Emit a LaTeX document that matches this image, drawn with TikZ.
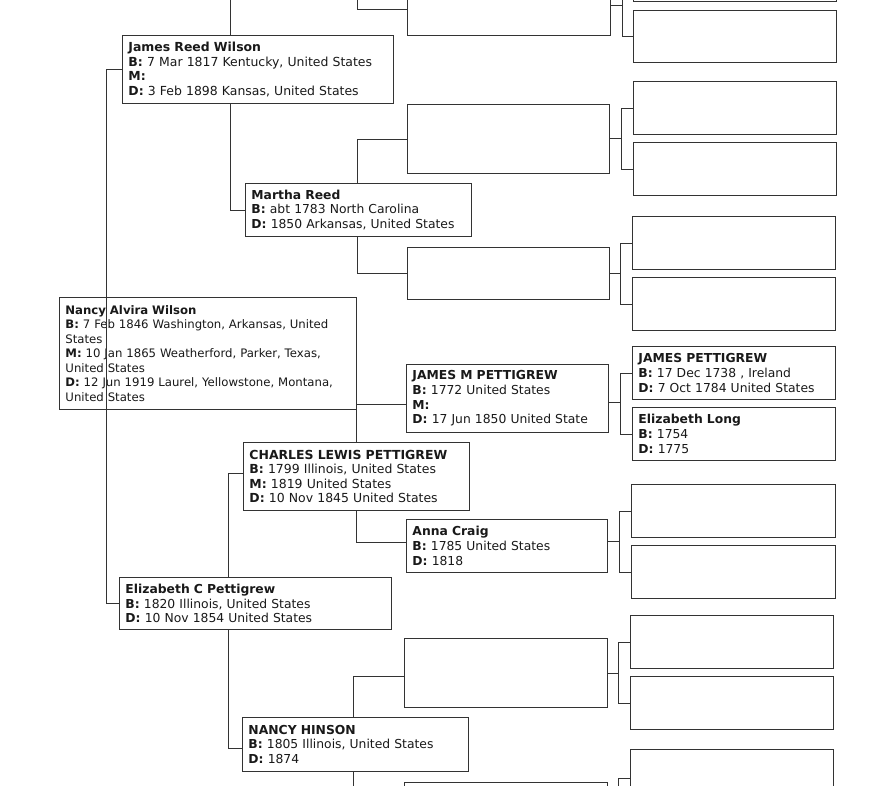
\documentclass[tikz,border=0pt]{standalone}
\usepackage{fontspec}
\setmainfont{DejaVu Sans}
\usetikzlibrary{backgrounds}
\newcommand\pfont{\fontsize{12.35}{14.6}\selectfont}
\newcommand\pfontL{\fontsize{12.45}{14.6}\selectfont}
\newcommand\pfontS{\fontsize{11.7}{14.5}\selectfont}
\begin{document}
\begin{tikzpicture}[x=1pt,y=-1pt,
  pbox/.style={draw=black!80, line width=0.9pt, fill=white, anchor=north west,
    inner xsep=6pt, inner ysep=0pt, align=left, font=\pfont, text=black!90},
  ebox/.style={draw=black!80, line width=0.9pt, fill=white, anchor=north west,
    inner sep=0pt},
  link/.style={draw=black!80, line width=0.8pt}]
\useasboundingbox (0,0) rectangle (873,785);
% ---------- people ----------
\node[pbox, fill=none, font=\pfontS, minimum width=297, minimum height=112, text width=285] (root) at (59,297)
  {\textbf{Nancy Alvira Wilson}\\\textbf{B:} 7 Feb 1846 Washington, Arkansas, United\\States\\\textbf{M:} 10 Jan 1865 Weatherford, Parker, Texas,\\United States\\\textbf{D:} 12 Jun 1919 Laurel, Yellowstone, Montana,\\United States};
\node[pbox, font=\pfontL, minimum width=271, minimum height=68, text width=259] (jrw) at (122,35)
  {\textbf{James Reed Wilson}\\\textbf{B:} 7 Mar 1817 Kentucky, United States\\\textbf{M:}\\\textbf{D:} 3 Feb 1898 Kansas, United States};
\node[pbox, minimum width=272, minimum height=52, text width=260] (ecp) at (119,577)
  {\textbf{Elizabeth C Pettigrew}\\\textbf{B:} 1820 Illinois, United States\\\textbf{D:} 10 Nov 1854 United States};
\node[pbox, minimum width=226, minimum height=53, text width=214] (mr) at (245,183)
  {\textbf{Martha Reed}\\\textbf{B:} abt 1783 North Carolina\\\textbf{D:} 1850 Arkansas, United States};
\node[pbox, font=\pfontL, minimum width=226, minimum height=68, text width=214] (clp) at (243,442)
  {\textbf{CHARLES LEWIS PETTIGREW}\\\textbf{B:} 1799 Illinois, United States\\\textbf{M:} 1819 United States\\\textbf{D:} 10 Nov 1845 United States};
\node[pbox, minimum width=226, minimum height=54, text width=214] (nh) at (242,717)
  {\textbf{NANCY HINSON}\\\textbf{B:} 1805 Illinois, United States\\\textbf{D:} 1874};
\node[pbox, minimum width=202, minimum height=68, text width=190] (jmp) at (406,364)
  {\textbf{JAMES M PETTIGREW}\\\textbf{B:} 1772 United States\\\textbf{M:}\\\textbf{D:} 17 Jun 1850 United State};
\node[pbox, minimum width=201, minimum height=53, text width=189] (ac) at (406,519)
  {\textbf{Anna Craig}\\\textbf{B:} 1785 United States\\\textbf{D:} 1818};
\node[pbox, minimum width=203, minimum height=53, text width=191] (jp) at (632,346)
  {\textbf{JAMES PETTIGREW}\\\textbf{B:} 17 Dec 1738 , Ireland\\\textbf{D:} 7 Oct 1784 United States};
\node[pbox, minimum width=203, minimum height=53, text width=191] (el) at (632,407)
  {\textbf{Elizabeth Long}\\\textbf{B:} 1754\\\textbf{D:} 1775};
% ---------- empty boxes ----------
\node[ebox, minimum width=203, minimum height=53] (g4a) at (407,-18) {};
\node[ebox, minimum width=202, minimum height=69] (g4b) at (407,104) {};
\node[ebox, minimum width=202, minimum height=52] (g4c) at (407,247) {};
\node[ebox, minimum width=203, minimum height=69] (g4f) at (404,638) {};
\node[ebox, minimum width=203, minimum height=53] (g4g) at (404,782) {};
\node[ebox, minimum width=203, minimum height=53] (g5a1) at (633,-52) {};
\node[ebox, minimum width=203, minimum height=52] (g5a2) at (633,10) {};
\node[ebox, minimum width=203, minimum height=53] (g5b1) at (633,81) {};
\node[ebox, minimum width=203, minimum height=53] (g5b2) at (633,142) {};
\node[ebox, minimum width=203, minimum height=53] (g5c1) at (632,216) {};
\node[ebox, minimum width=203, minimum height=53] (g5c2) at (632,277) {};
\node[ebox, minimum width=204, minimum height=53] (g5e1) at (631,484) {};
\node[ebox, minimum width=204, minimum height=53] (g5e2) at (631,545) {};
\node[ebox, minimum width=203, minimum height=53] (g5f1) at (630,615) {};
\node[ebox, minimum width=203, minimum height=53] (g5f2) at (630,676) {};
\node[ebox, minimum width=203, minimum height=53] (g5g1) at (630,749) {};
% off-page ends
\coordinate (jrwf) at (245,-70);
\coordinate (g4z) at (407,-140);
% ---------- connectors ----------
\begin{scope}[on background layer]
\fill[white] (0,0) rectangle (873,785);
% gen3 -> gen4
\draw[link] (jrwf) -- ++(-15,0) |- (mr.west);
\draw[link] (g4z) -- ++(-50,0) |- (g4a.west);
\draw[link] (g4b.west) -- ++(-50,0) |- (g4c.west);
\draw[link] ([yshift=-6pt]jmp.west) -- ++(-50,0) |- ([yshift=4pt]ac.west);
\draw[link] ([yshift=3pt]clp.west) -- ++(-15,0) |- ([yshift=-4pt]nh.west);
\draw[link] ([yshift=-3pt]g4f.west) -- ++(-51,0) |- (g4g.west);
% gen4 -> gen5
\draw[link] ([yshift=4pt]g4a.east) -- ++(11,0) coordinate (ja);
\draw[link] (g5a1.west) -| (ja) |- (g5a2.west);
\draw[link] ([yshift=1pt]g4b.east) -- ++(11,0) coordinate (jb);
\draw[link] (g5b1.west) -| (jb) |- (g5b2.west);
\draw[link] (g4c.east) -- ++(10,0) coordinate (jc);
\draw[link] (g5c1.west) -| (jc) |- (g5c2.west);
\draw[link] ([yshift=-4pt]jmp.east) -- ++(11,0) coordinate (jd);
\draw[link] (jp.west) -| (jd) |- (el.west);
\draw[link] ([yshift=5pt]ac.east) -- ++(11,0) coordinate (je);
\draw[link] (g5e1.west) -| (je) |- (g5e2.west);
\draw[link] (g4f.east) -- ++(10,0) coordinate (jf);
\draw[link] (g5f1.west) -| (jf) |- (g5f2.west);
\draw[link] (g4g.east) -- ++(10,0) coordinate (jg);
\draw[link] ([yshift=-2pt]g5g1.west) -| (jg);
\end{scope}
% gen1 -> gen2 (drawn over the root box, as printed)
\draw[link] (jrw.west) -- ++(-16,0) |- (ecp.west);
\end{tikzpicture}
\end{document}
